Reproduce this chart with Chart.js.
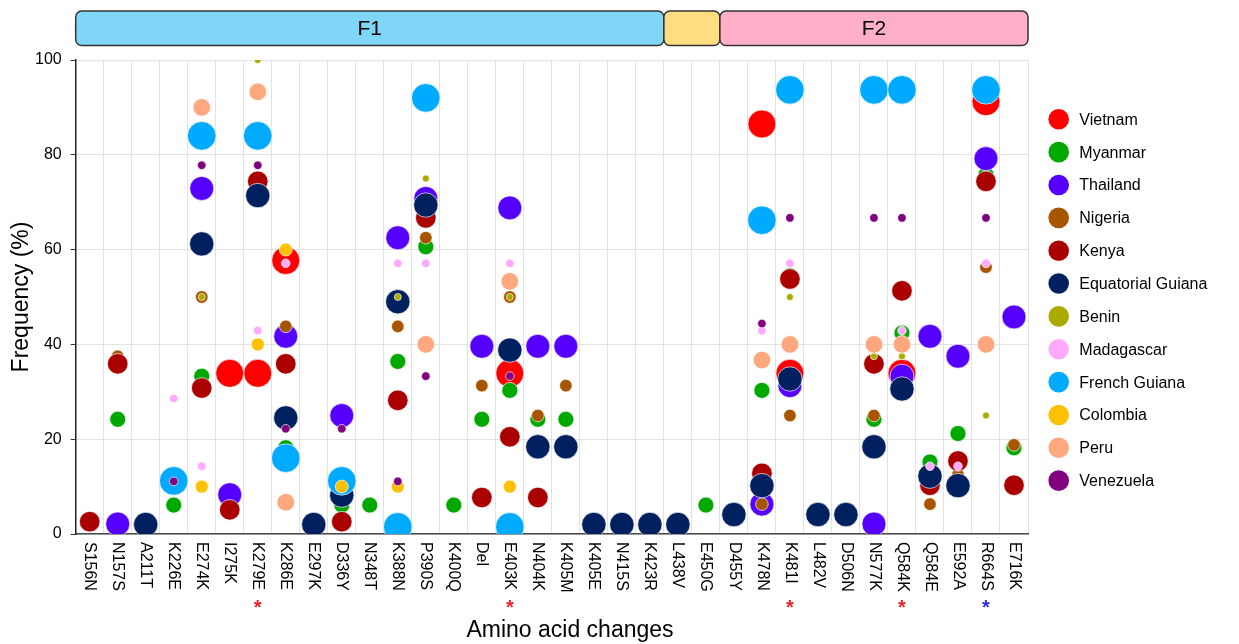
<!DOCTYPE html>
<html>
<head>
<meta charset="utf-8">
<title>Amino acid changes by country</title>
<script src="https://cdn.jsdelivr.net/npm/chart.js@4.4.1/dist/chart.umd.min.js"></script>
<style>
  html, body { margin: 0; padding: 0; background: #ffffff; }
  #wrap { width: 1239px; height: 644px; }
</style>
</head>
<body>
<div id="wrap"><canvas id="chart" width="1239" height="644"></canvas></div>
<script>
// ---- categories -----------------------------------------------------------
const mutations = [
  'S156N', 'N157S', 'A211T', 'K226E', 'E274K', 'I275K', 'K279E', 'K286E',
  'E297K', 'D336Y', 'N348T', 'K388N', 'P390S', 'K400Q', 'Del', 'E403K',
  'N404K', 'K405M', 'K405E', 'N415S', 'K423R', 'L438V', 'E450G', 'D455Y',
  'K478N', 'K481I', 'L482V', 'D506N', 'N577K', 'Q584K', 'Q584E', 'E592A',
  'R664S', 'E716K'
];

// mutations flagged below the axis
const flaggedRed = ['K279E', 'E403K', 'K481I', 'Q584K'];
const flaggedBlue = ['R664S'];

// protein regions spanning the axis: [label, first mutation, last mutation]
const regionLabels = ['F1', '', 'F2'];
const regionStarts = ['S156N', 'L438V', 'D455Y'];
const regionEnds = ['K423R', 'E450G', 'E716K'];

const yTicks = [0, 20, 40, 60, 80, 100];

// ---- frequency (%) of each change, per country ------------------------------
const vietnam = [['I275K', 33.9], ['K279E', 33.9], ['K286E', 57.7], ['E403K', 33.9],
  ['K478N', 86.5], ['K481I', 33.9], ['Q584K', 33.9], ['R664S', 91.2]];

const myanmar = [['N157S', 24.2], ['K226E', 6.1], ['E274K', 33.3], ['K286E', 18.2],
  ['D336Y', 6.1], ['N348T', 6.1], ['K388N', 36.4], ['P390S', 60.6], ['K400Q', 6.1],
  ['Del', 24.2], ['E403K', 30.3], ['N404K', 24.2], ['K405M', 24.2], ['E450G', 6.1],
  ['K478N', 30.3], ['K481I', 54.5], ['N577K', 24.2], ['Q584K', 42.4], ['Q584E', 15.2],
  ['E592A', 21.2], ['R664S', 75.8], ['E716K', 18.2]];

const thailand = [['N157S', 2.1], ['E274K', 72.9], ['I275K', 8.3], ['K286E', 41.7],
  ['D336Y', 25.0], ['K388N', 62.5], ['P390S', 70.8], ['Del', 39.6], ['E403K', 68.8],
  ['N404K', 39.6], ['K405M', 39.6], ['K478N', 6.3], ['K481I', 31.3], ['N577K', 2.1],
  ['Q584K', 33.3], ['Q584E', 41.7], ['E592A', 37.5], ['R664S', 79.2], ['E716K', 45.8]];

const nigeria = [['N157S', 37.5], ['E274K', 50.0], ['K286E', 43.8], ['K388N', 43.8],
  ['P390S', 62.5], ['Del', 31.3], ['E403K', 50.0], ['N404K', 25.0], ['K405M', 31.3],
  ['K478N', 6.3], ['K481I', 25.0], ['N577K', 25.0], ['Q584E', 6.3], ['E592A', 12.5],
  ['R664S', 56.3], ['E716K', 18.8]];

const kenya = [['S156N', 2.6], ['N157S', 35.9], ['E274K', 30.8], ['I275K', 5.1],
  ['K279E', 74.4], ['K286E', 35.9], ['D336Y', 2.6], ['K388N', 28.2], ['P390S', 66.7],
  ['Del', 7.7], ['E403K', 20.5], ['N404K', 7.7], ['K478N', 12.8], ['K481I', 53.8],
  ['N577K', 35.9], ['Q584K', 51.3], ['Q584E', 10.3], ['E592A', 15.4], ['R664S', 74.4],
  ['E716K', 10.3]];

const equatorialGuiana = [['A211T', 2.0], ['E274K', 61.2], ['K279E', 71.4], ['K286E', 24.5],
  ['E297K', 2.0], ['D336Y', 8.2], ['K388N', 49.0], ['P390S', 69.4], ['E403K', 38.8],
  ['N404K', 18.4], ['K405M', 18.4], ['K405E', 2.0], ['N415S', 2.0], ['K423R', 2.0],
  ['L438V', 2.0], ['D455Y', 4.1], ['K478N', 10.2], ['K481I', 32.7], ['L482V', 4.1],
  ['D506N', 4.1], ['N577K', 18.4], ['Q584K', 30.6], ['Q584E', 12.2], ['E592A', 10.2]];

const benin = [['E274K', 50.0], ['K279E', 100.0], ['K388N', 50.0], ['P390S', 75.0],
  ['E403K', 50.0], ['K481I', 50.0], ['N577K', 37.5], ['Q584K', 37.5], ['R664S', 25.0]];

const madagascar = [['K226E', 28.6], ['E274K', 14.3], ['K279E', 42.9], ['K286E', 57.1],
  ['K388N', 57.1], ['P390S', 57.1], ['E403K', 57.1], ['K478N', 42.9], ['K481I', 57.1],
  ['Q584K', 42.9], ['Q584E', 14.3], ['E592A', 14.3], ['R664S', 57.1]];

const frenchGuiana = [['K226E', 11.2], ['E274K', 84.0], ['K279E', 84.0], ['K286E', 16.0],
  ['D336Y', 11.2], ['K388N', 1.5], ['P390S', 92.0], ['E403K', 1.5], ['K478N', 66.2],
  ['K481I', 93.7], ['N577K', 93.7], ['Q584K', 93.7], ['R664S', 93.7]];

const colombia = [['E274K', 10.0], ['K279E', 40.0], ['K286E', 60.0], ['D336Y', 10.0],
  ['K388N', 10.0], ['E403K', 10.0]];

const peru = [['E274K', 90.0], ['K279E', 93.3], ['K286E', 6.7], ['P390S', 40.0],
  ['E403K', 53.3], ['K478N', 36.7], ['K481I', 40.0], ['N577K', 40.0], ['Q584K', 40.0],
  ['R664S', 40.0]];

const venezuela = [['K226E', 11.1], ['E274K', 77.8], ['K279E', 77.8], ['K286E', 22.2],
  ['D336Y', 22.2], ['K388N', 11.1], ['P390S', 33.3], ['E403K', 33.3], ['K478N', 44.4],
  ['K481I', 66.7], ['N577K', 66.7], ['Q584K', 66.7], ['R664S', 66.7]];

const countries = ['Vietnam', 'Myanmar', 'Thailand', 'Nigeria', 'Kenya', 'Equatorial Guiana',
  'Benin', 'Madagascar', 'French Guiana', 'Colombia', 'Peru', 'Venezuela'];
const countryValues = [vietnam, myanmar, thailand, nigeria, kenya, equatorialGuiana,
  benin, madagascar, frenchGuiana, colombia, peru, venezuela];

const xTitle = 'Amino acid changes';
const yTitle = 'Frequency (%)';

// ---- styling --------------------------------------------------------------
const FONT = 'Arial, "Liberation Sans", Helvetica, sans-serif';
const countryColors = ['#ff0000', '#00a800', '#5500ff', '#a85500', '#aa0000', '#002060',
  '#aaaa00', '#ffaaff', '#00aaff', '#ffc000', '#ffa880', '#800080'];
const countryRadius = [14, 8, 12, 6.3, 10.3, 12.2, 3.5, 4.3, 14.3, 6.5, 8.8, 4.3];
const regionColors = ['#7fd6f6', '#ffdd80', '#ffb0c8'];

const datasets = countries.map((name, i) => ({
  label: name,
  data: countryValues[i].map(([m, v]) => ({ x: m, y: v })),
  backgroundColor: countryColors[i],
  borderColor: 'rgba(255,255,255,0.85)',
  borderWidth: 0.8,
  radius: countryRadius[i],
  // first country sits at the bottom of the stack, the last on top
  order: countries.length - i
}));

// region bar above the plot
const regionBar = {
  id: 'regionBar',
  afterDraw(chart) {
    const { ctx } = chart;
    const x = chart.scales.x;
    const step = (x.right - x.left) / mutations.length;
    ctx.save();
    regionLabels.forEach((label, i) => {
      const a = x.getPixelForValue(mutations.indexOf(regionStarts[i])) - step / 2;
      const b = x.getPixelForValue(mutations.indexOf(regionEnds[i])) + step / 2;
      ctx.beginPath();
      ctx.roundRect(a, 11, b - a, 34.5, 6);
      ctx.fillStyle = regionColors[i];
      ctx.fill();
      ctx.lineWidth = 1.5;
      ctx.strokeStyle = '#333333';
      ctx.stroke();
      if (label) {
        ctx.fillStyle = '#000000';
        ctx.font = '21px ' + FONT;
        ctx.textAlign = 'center';
        ctx.textBaseline = 'middle';
        ctx.fillText(label, (a + b) / 2, 29);
      }
    });
    ctx.restore();
  }
};

// vertical category labels read top to bottom, with flags underneath, and the axis title
const mutationLabels = {
  id: 'mutationLabels',
  afterDraw(chart) {
    const { ctx } = chart;
    const x = chart.scales.x;
    const y0 = chart.chartArea.bottom;
    ctx.save();
    mutations.forEach((m, i) => {
      const px = x.getPixelForValue(i);
      ctx.save();
      ctx.translate(px, y0 + 8);
      ctx.rotate(Math.PI / 2);
      ctx.font = '16px ' + FONT;
      ctx.fillStyle = '#000000';
      ctx.textAlign = 'left';
      ctx.textBaseline = 'middle';
      ctx.fillText(m, 0, 0);
      ctx.restore();
      const flag = flaggedRed.includes(m) ? '#e8202a' : (flaggedBlue.includes(m) ? '#2a30e8' : null);
      if (flag) {
        ctx.font = 'bold 20px ' + FONT;
        ctx.fillStyle = flag;
        ctx.textAlign = 'center';
        ctx.textBaseline = 'alphabetic';
        const mt = ctx.measureText('*');
        const mid = (mt.actualBoundingBoxAscent - mt.actualBoundingBoxDescent) / 2;
        ctx.fillText('*', px, 604 + mid);
      }
    });
    ctx.font = '23px ' + FONT;
    ctx.fillStyle = '#000000';
    ctx.textAlign = 'center';
    ctx.textBaseline = 'middle';
    ctx.fillText(xTitle, 570, 631);
    ctx.restore();
  }
};

// country key on the right
const countryKey = {
  id: 'countryKey',
  afterDraw(chart) {
    const { ctx } = chart;
    ctx.save();
    chart.data.datasets.forEach((ds, i) => {
      const cy = 119.3 + 32.85 * i;
      ctx.beginPath();
      ctx.arc(1058.7, cy, 10.3, 0, Math.PI * 2);
      ctx.fillStyle = ds.backgroundColor;
      ctx.fill();
      ctx.font = '16px ' + FONT;
      ctx.fillStyle = '#000000';
      ctx.textAlign = 'left';
      ctx.textBaseline = 'middle';
      ctx.fillText(ds.label, 1079.3, cy + 1);
    });
    ctx.restore();
  }
};

new Chart(document.getElementById('chart'), {
  type: 'bubble',
  data: { labels: mutations, datasets },
  plugins: [regionBar, mutationLabels, countryKey],
  options: {
    responsive: false,
    devicePixelRatio: 1,
    animation: false,
    layout: { padding: { left: 0, right: 211, top: 60, bottom: 0 } },
    plugins: {
      legend: { display: false },
      tooltip: { enabled: false }
    },
    scales: {
      x: {
        type: 'category',
        labels: mutations,
        offset: true,
        grid: { offset: true, color: '#e2e2e2', lineWidth: 1, drawTicks: false },
        border: { display: true, color: '#4a4a4a', width: 1.5 },
        ticks: { display: false },
        afterFit(scale) { scale.height = 110; }
      },
      y: {
        min: 0,
        max: 100,
        afterBuildTicks(scale) { scale.ticks = yTicks.map(v => ({ value: v })); },
        grid: { color: '#e2e2e2', lineWidth: 1, tickLength: 5, tickColor: '#333333' },
        border: { display: true, color: '#222222', width: 1.5 },
        ticks: { font: { family: FONT, size: 16 }, color: '#000000', padding: 9 },
        title: {
          display: true,
          text: yTitle,
          font: { family: FONT, size: 23 },
          color: '#000000',
          padding: { top: 8, bottom: 0 }
        },
        afterFit(scale) { scale.width = 75.7; }
      }
    }
  }
});
</script>
</body>
</html>
